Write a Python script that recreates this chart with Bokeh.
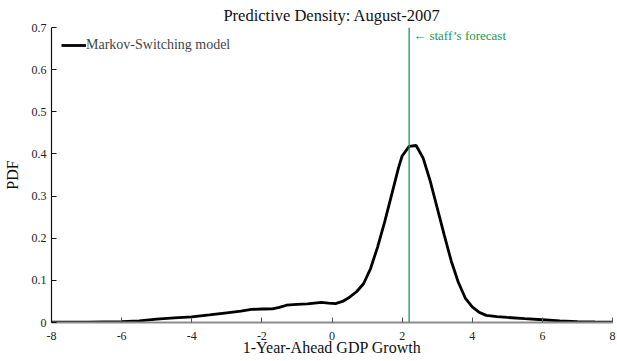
from bokeh.plotting import figure
from bokeh.models import Range1d, FixedTicker, Label, Span, Legend, LegendItem
from bokeh.embed import file_html
from bokeh.resources import INLINE

# ---- data ----
growth = [-8.0, -7.0, -6.5, -6.0, -5.5, -5.0, -4.5, -4.0, -3.5, -3.0, -2.6, -2.3,
          -2.0, -1.7, -1.5, -1.3, -1.0, -0.7, -0.5, -0.3, -0.1, 0.1, 0.3, 0.5,
          0.7, 0.9, 1.1, 1.3, 1.5, 1.7, 1.9, 2.0, 2.2, 2.4, 2.6, 2.8, 3.0, 3.2,
          3.4, 3.6, 3.8, 4.0, 4.2, 4.4, 4.7, 5.0, 5.5, 6.0, 6.5, 7.0, 7.5, 8.0]
pdf = [0.001, 0.001, 0.0015, 0.002, 0.004, 0.008, 0.011, 0.0135, 0.018, 0.023, 0.027, 0.031,
       0.032, 0.0325, 0.036, 0.041, 0.043, 0.044, 0.046, 0.048, 0.046, 0.045, 0.050, 0.060,
       0.073, 0.092, 0.128, 0.179, 0.238, 0.303, 0.368, 0.395, 0.418, 0.420, 0.390, 0.336, 0.272, 0.208,
       0.146, 0.096, 0.058, 0.037, 0.024, 0.017, 0.014, 0.012, 0.009, 0.0065, 0.004, 0.002, 0.0012, 0.001]
staff_forecast = 2.2

x_ticks = [-8, -6, -4, -2, 0, 2, 4, 6, 8]
x_tick_labels = ["-8", "-6", "-4", "-2", "0", "2", "4", "6", "8"]
y_ticks = [0, 0.1, 0.2, 0.3, 0.4, 0.5, 0.6, 0.7]
y_tick_labels = ["0", "0.1", "0.2", "0.3", "0.4", "0.5", "0.6", "0.7"]

title_text = "Predictive Density: August-2007"
x_label = "1-Year-Ahead GDP Growth"
y_label = "PDF"
series_name = "Markov-Switching model"
forecast_text = "\u2190 staff\u2019s forecast"

FONT = "Liberation Serif"
GREEN = "#1a9a4e"

p = figure(frame_width=561, frame_height=295, title=title_text,
           x_range=Range1d(-8, 8), y_range=Range1d(0, 0.7),
           output_backend="svg", toolbar_location=None,
           min_border_left=44, min_border_right=4,
           min_border_top=0, min_border_bottom=38)

p.title.align = "center"
p.title.text_font = FONT
p.title.text_font_size = "16.5px"
p.title.text_font_style = "normal"
p.title.text_color = "#111111"
p.title.standoff = 6
p.title.offset = 0

p.outline_line_color = None
p.xgrid.visible = False
p.ygrid.visible = False
p.background_fill_color = "white"
p.border_fill_color = "white"

# x axis
xa = p.xaxis[0]
xa.ticker = FixedTicker(ticks=x_ticks)
xa.major_label_overrides = {t: l for t, l in zip(x_ticks, x_tick_labels)}
xa.axis_line_color = "#8c8c8c"
xa.axis_line_width = 2
xa.major_tick_in = 5
xa.major_tick_out = 0
xa.major_tick_line_color = "#555555"
xa.minor_tick_line_color = None
xa.major_label_text_font = FONT
xa.major_label_text_font_size = "12px"
xa.major_label_text_color = "#222222"
xa.major_label_standoff = 9
xa.axis_label = x_label
xa.axis_label_text_font = FONT
xa.axis_label_text_font_size = "16px"
xa.axis_label_text_font_style = "normal"
xa.axis_label_text_color = "#111111"
xa.axis_label_standoff = -4

# y axis
ya = p.yaxis[0]
ya.ticker = FixedTicker(ticks=y_ticks)
ya.major_label_overrides = {t: l for t, l in zip(y_ticks, y_tick_labels)}
ya.axis_line_color = "#111111"
ya.axis_line_width = 1.2
ya.major_tick_in = 5
ya.major_tick_out = 0
ya.major_tick_line_color = "#111111"
ya.minor_tick_line_color = None
ya.major_label_text_font = FONT
ya.major_label_text_font_size = "12px"
ya.major_label_text_color = "#222222"
ya.major_label_standoff = 5
ya.axis_label = y_label
ya.axis_label_text_font = FONT
ya.axis_label_text_font_size = "16px"
ya.axis_label_text_font_style = "normal"
ya.axis_label_text_color = "#111111"
ya.axis_label_standoff = 8

# staff forecast line
p.add_layout(Span(location=staff_forecast, dimension="height",
                  line_color=GREEN, line_width=1.3))

# density curve
r = p.line(growth, pdf, line_color="black", line_width=2.8)

legend = Legend(items=[LegendItem(label=series_name, renderers=[r])],
                location="top_left", margin=10, padding=0,
                border_line_color=None, background_fill_alpha=0,
                label_text_font=FONT, label_text_font_size="14px",
                glyph_width=25, glyph_height=12, label_height=12,
                label_standoff=0)
p.add_layout(legend)

# forecast annotation
p.add_layout(Label(x=staff_forecast, y=0.7, x_offset=4, y_offset=-8,
                   text=forecast_text, text_font=FONT, text_font_size="13px",
                   text_color=GREEN, text_baseline="middle", text_align="left"))

open("out.html", "w").write(file_html(p, INLINE))
